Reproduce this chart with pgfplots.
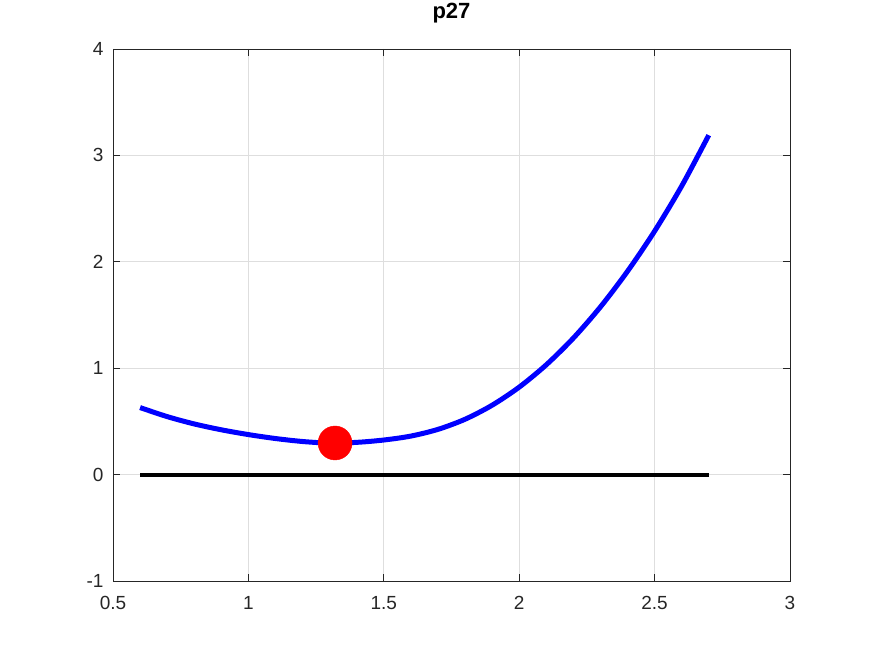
\documentclass[border=0pt]{standalone}
\usepackage{pgfplots}
\pgfplotsset{compat=1.18}
\usepackage{fontspec}
\setmainfont{Liberation Sans}
\definecolor{axgray}{HTML}{262626}
\definecolor{gridgray}{HTML}{DEDEDE}
\begin{document}
\begin{tikzpicture}
\begin{axis}[
  name=ax,
  scale only axis,
  width=677pt, height=532pt,
  xmin=0.5, xmax=3, ymin=-1, ymax=4,
  xtick={0.5,1,1.5,2,2.5,3},
  xticklabels={0.5,1,1.5,2,2.5,3},
  ytick={-1,0,1,2,3,4},
  yticklabels={-1,0,1,2,3,4},
  tick align=inside,
  major tick length=7pt,
  grid=major,
  grid style={gridgray, line width=0.8pt},
  axis line style={axgray, line width=0.8pt},
  tick style={axgray, line width=0.8pt},
  ticklabel style={font=\fontsize{19}{19}\selectfont, text=axgray},
  xticklabel style={yshift=-12pt},
  yticklabel style={xshift=-6pt},
  title={p27},
  title style={at={(0.5,1)}, anchor=base, yshift=24pt, font=\bfseries\fontsize{22}{22}\selectfont},
  clip=false,
]
\addplot[black, line width=4pt] coordinates {(0.6,0) (2.7,0)};
\addplot[blue, line width=5pt, smooth] coordinates {
(0.6,0.630) (0.7,0.545) (0.8,0.476) (0.9,0.421) (1.0,0.376)
(1.1,0.339) (1.2,0.311) (1.3,0.296) (1.4,0.303) (1.5,0.325)
(1.6,0.362) (1.7,0.425) (1.8,0.520) (1.9,0.652) (2.0,0.822)
(2.1,1.032) (2.2,1.283) (2.3,1.576) (2.4,1.911) (2.5,2.288)
(2.6,2.712) (2.7,3.190)
};
\addplot[only marks, mark=*, mark size=17pt, color=red, mark options={fill=red, draw=red}] coordinates {(1.32,0.297)};
\end{axis}
\path[use as bounding box] ([xshift=-113pt,yshift=-73pt]ax.south west) rectangle ([xshift=82pt,yshift=49pt]ax.north east);
\end{tikzpicture}
\end{document}
